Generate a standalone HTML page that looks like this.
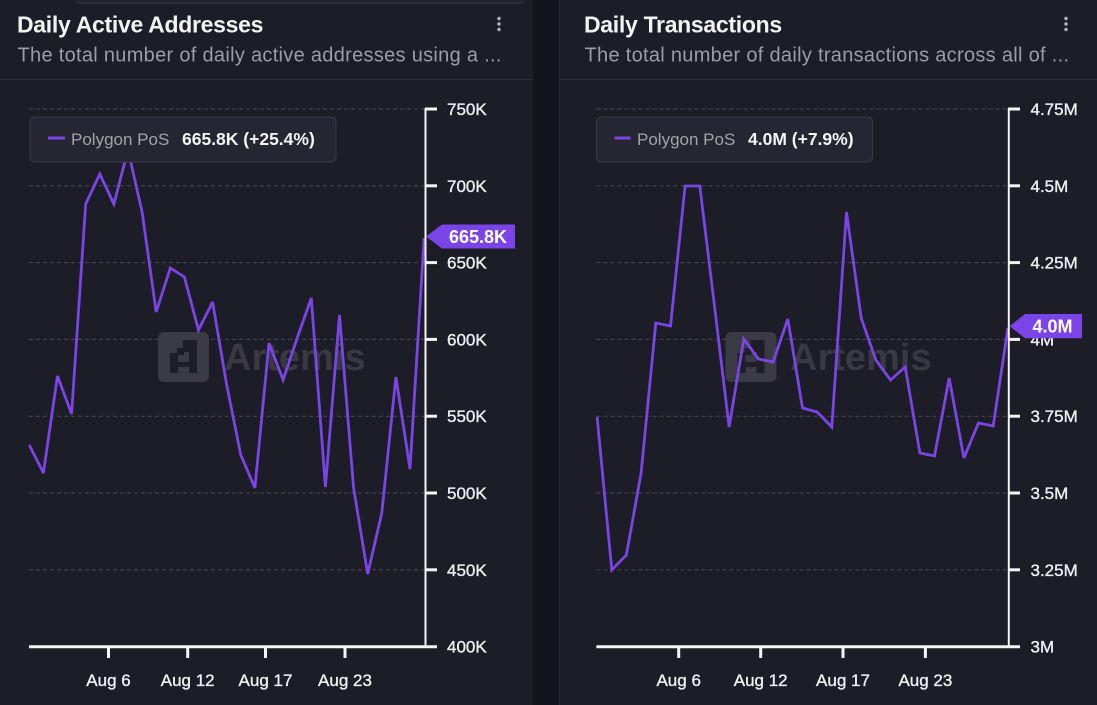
<!DOCTYPE html>
<html>
<head>
<meta charset="utf-8">
<style>
  html,body{margin:0;padding:0;background:#1c1d27;}
  body{width:1097px;height:705px;overflow:hidden;position:relative;}
  svg{position:absolute;left:0;top:0;}
  text{font-family:"Liberation Sans", sans-serif;}
</style>
</head>
<body>
<svg width="1097" height="705" viewBox="0 0 1097 705" xmlns="http://www.w3.org/2000/svg">
  <!-- panels -->
  <rect x="0" y="0" width="1097" height="705" fill="#1c1d27"/>
  <rect x="533" y="0" width="26" height="705" fill="#131419"/>
  <line x1="559.5" y1="0" x2="559.5" y2="705" stroke="#262733" stroke-width="1"/>
  <!-- top popup edge -->
  <rect x="76" y="0" width="448" height="3" fill="#22232d"/>
  <line x1="76" y1="3" x2="524" y2="3" stroke="#383944" stroke-width="1"/>
  <!-- header separators -->
  <line x1="0" y1="79.5" x2="533" y2="79.5" stroke="#2b2d38" stroke-width="1"/>
  <line x1="559" y1="79.5" x2="1097" y2="79.5" stroke="#2b2d38" stroke-width="1"/>

  <!-- titles -->
  <text x="17" y="32.5" font-size="23" font-weight="bold" fill="#f2f2f5" letter-spacing="-0.3">Daily Active Addresses</text>
  <text x="17.5" y="61.5" font-size="20" fill="#9c9ca6" letter-spacing="0.3">The total number of daily active addresses using a ...</text>
  <text x="584" y="32.5" font-size="23" font-weight="bold" fill="#f2f2f5" letter-spacing="-0.3">Daily Transactions</text>
  <text x="584.5" y="61.5" font-size="20" fill="#9c9ca6" letter-spacing="0.3">The total number of daily transactions across all of ...</text>
  <!-- kebabs -->
  <g fill="#b4b4bc">
    <circle cx="499" cy="18.5" r="1.7"/><circle cx="499" cy="24" r="1.7"/><circle cx="499" cy="29.5" r="1.7"/>
    <circle cx="1066" cy="18.5" r="1.7"/><circle cx="1066" cy="24" r="1.7"/><circle cx="1066" cy="29.5" r="1.7"/>
  </g>

  <!-- ============ LEFT CHART ============ -->
  <g stroke="#474955" stroke-width="1" stroke-dasharray="4 3">
    <line x1="29" y1="109" x2="425" y2="109"/>
    <line x1="29" y1="185.8" x2="425" y2="185.8"/>
    <line x1="29" y1="262.6" x2="425" y2="262.6"/>
    <line x1="29" y1="339.4" x2="425" y2="339.4"/>
    <line x1="29" y1="416.2" x2="425" y2="416.2"/>
    <line x1="29" y1="493" x2="425" y2="493"/>
    <line x1="29" y1="569.8" x2="425" y2="569.8"/>
  </g>
  <!-- watermark -->
  <g>
    <rect x="158" y="332" width="51" height="50" rx="6" fill="#3a3b44"/>
    <g fill="#1d1e26">
      <rect x="183" y="340" width="14" height="12"/>
      <rect x="177" y="348" width="7" height="7"/>
      <rect x="170" y="353" width="8" height="20"/>
      <rect x="170" y="362" width="27" height="5"/>
      <rect x="189" y="340" width="8" height="33"/>
    </g>
    <text x="224" y="370" font-size="38" font-weight="bold" fill="#383941">Artemis</text>
  </g>
  <polyline fill="none" stroke="#7b45e6" stroke-width="2.8" stroke-linejoin="miter" stroke-miterlimit="3"
    points="29.3,445 43.4,473 57.5,376 71.6,414 85.7,204 99.8,174 113.9,204 128,150 142.1,212 156.2,312 170.3,268 184.4,277 198.5,330 212.6,302 226.7,385 240.8,455 254.9,488 269,343 283.1,380 297.2,338 311.3,298 325.4,487 339.5,315 353.6,488 367.7,574 381.8,513 395.9,377 410,469 424.1,238"/>
  <!-- axes -->
  <line x1="425.5" y1="108" x2="425.5" y2="647" stroke="#f4f4f6" stroke-width="2"/>
  <line x1="29" y1="646.7" x2="437" y2="646.7" stroke="#f4f4f6" stroke-width="3"/>
  <g fill="#f4f4f6">
    <rect x="425" y="107.5" width="12" height="3"/>
    <rect x="425" y="184.3" width="12" height="3"/>
    <rect x="425" y="261.1" width="12" height="3"/>
    <rect x="425" y="337.9" width="12" height="3"/>
    <rect x="425" y="414.7" width="12" height="3"/>
    <rect x="425" y="491.5" width="12" height="3"/>
    <rect x="425" y="568.3" width="12" height="3"/>
    <rect x="107" y="647" width="3" height="11"/>
    <rect x="186.2" y="647" width="3" height="11"/>
    <rect x="264" y="647" width="3" height="11"/>
    <rect x="343.5" y="647" width="3" height="11"/>
  </g>
  <g font-size="17" fill="#f0f0f4" stroke="#f0f0f4" stroke-width="0.35">
    <text x="447" y="115">750K</text>
    <text x="447" y="191.8">700K</text>
    <text x="447" y="268.6">650K</text>
    <text x="447" y="345.4">600K</text>
    <text x="447" y="422.2">550K</text>
    <text x="447" y="499">500K</text>
    <text x="447" y="575.8">450K</text>
    <text x="447" y="652.7">400K</text>
  </g>
  <g font-size="17" fill="#f0f0f4" stroke="#f0f0f4" stroke-width="0.35" text-anchor="middle">
    <text x="108.5" y="686">Aug 6</text>
    <text x="187.7" y="686">Aug 12</text>
    <text x="265.5" y="686">Aug 17</text>
    <text x="345" y="686">Aug 23</text>
  </g>
  <!-- badge -->
  <polygon points="426,236.5 442,224.5 515,224.5 515,248.5 442,248.5" fill="#7b44e6"/>
  <text x="449" y="243" font-size="18" font-weight="bold" fill="#ffffff">665.8K</text>
  <!-- legend -->
  <rect x="30" y="117" width="306" height="45" rx="5" fill="#252632" stroke="#3a3b47" stroke-width="1"/>
  <line x1="48" y1="138" x2="65" y2="138" stroke="#7b45e6" stroke-width="3"/>
  <text x="71" y="145" font-size="17" fill="#a3a3ad">Polygon PoS</text>
  <text x="182" y="145" font-size="17.5" font-weight="bold" fill="#f4f4f6">665.8K (+25.4%)</text>

  <!-- ============ RIGHT CHART ============ -->
  <g stroke="#474955" stroke-width="1" stroke-dasharray="4 3">
    <line x1="596.4" y1="109" x2="1008" y2="109"/>
    <line x1="596.4" y1="185.8" x2="1008" y2="185.8"/>
    <line x1="596.4" y1="262.6" x2="1008" y2="262.6"/>
    <line x1="596.4" y1="339.4" x2="1008" y2="339.4"/>
    <line x1="596.4" y1="416.2" x2="1008" y2="416.2"/>
    <line x1="596.4" y1="493" x2="1008" y2="493"/>
    <line x1="596.4" y1="569.8" x2="1008" y2="569.8"/>
  </g>
  <g>
    <rect x="725.5" y="332" width="51" height="50" rx="6" fill="#3a3b44"/>
    <g fill="#1d1e26">
      <rect x="750.5" y="340" width="14" height="12"/>
      <rect x="744.5" y="348" width="7" height="7"/>
      <rect x="737.5" y="353" width="8" height="20"/>
      <rect x="737.5" y="362" width="27" height="5"/>
      <rect x="756.5" y="340" width="8" height="33"/>
    </g>
    <text x="790" y="370" font-size="38" font-weight="bold" fill="#383941">Artemis</text>
  </g>
  <polyline fill="none" stroke="#7b45e6" stroke-width="2.8" stroke-linejoin="miter" stroke-miterlimit="3"
    points="597.1,417 611.8,570 626.4,555 641.1,473 655.8,323 670.5,326 685.1,186 699.8,186 714.5,306 729.1,427 743.8,339 758.5,359 773.1,362 787.8,319 802.5,408 817.1,412 831.8,427 846.5,212 861.2,318 875.8,360 890.5,380 905.2,367 919.9,453 934.5,456 949.2,378 963.9,458 978.5,423 993.2,426 1007.9,328"/>
  <line x1="1008.8" y1="108" x2="1008.8" y2="647" stroke="#f4f4f6" stroke-width="2"/>
  <line x1="596.4" y1="646.7" x2="1020" y2="646.7" stroke="#f4f4f6" stroke-width="3"/>
  <g fill="#f4f4f6">
    <rect x="1008" y="107.5" width="12" height="3"/>
    <rect x="1008" y="184.3" width="12" height="3"/>
    <rect x="1008" y="261.1" width="12" height="3"/>
    <rect x="1008" y="337.9" width="12" height="3"/>
    <rect x="1008" y="414.7" width="12" height="3"/>
    <rect x="1008" y="491.5" width="12" height="3"/>
    <rect x="1008" y="568.3" width="12" height="3"/>
    <rect x="677.2" y="647" width="3" height="11"/>
    <rect x="759.2" y="647" width="3" height="11"/>
    <rect x="841.5" y="647" width="3" height="11"/>
    <rect x="923.9" y="647" width="3" height="11"/>
  </g>
  <g font-size="17" fill="#f0f0f4" stroke="#f0f0f4" stroke-width="0.35">
    <text x="1030.5" y="115">4.75M</text>
    <text x="1030.5" y="191.8">4.5M</text>
    <text x="1030.5" y="268.6">4.25M</text>
    <text x="1030.5" y="345.4">4M</text>
    <text x="1030.5" y="422.2">3.75M</text>
    <text x="1030.5" y="499">3.5M</text>
    <text x="1030.5" y="575.8">3.25M</text>
    <text x="1030.5" y="652.7">3M</text>
  </g>
  <g font-size="17" fill="#f0f0f4" stroke="#f0f0f4" stroke-width="0.35" text-anchor="middle">
    <text x="678.7" y="686">Aug 6</text>
    <text x="760.7" y="686">Aug 12</text>
    <text x="843" y="686">Aug 17</text>
    <text x="925.4" y="686">Aug 23</text>
  </g>
  <polygon points="1009.5,326.2 1025,314 1082,314 1082,338.3 1025,338.3" fill="#7b44e6"/>
  <text x="1032.5" y="332.5" font-size="18" font-weight="bold" fill="#ffffff">4.0M</text>
  <rect x="596.5" y="117" width="276" height="45" rx="5" fill="#252632" stroke="#3a3b47" stroke-width="1"/>
  <line x1="614.6" y1="138" x2="630.6" y2="138" stroke="#7b45e6" stroke-width="3"/>
  <text x="637" y="145" font-size="17" fill="#a3a3ad">Polygon PoS</text>
  <text x="748" y="145" font-size="17.5" font-weight="bold" fill="#f4f4f6">4.0M (+7.9%)</text>
</svg>
</body>
</html>
